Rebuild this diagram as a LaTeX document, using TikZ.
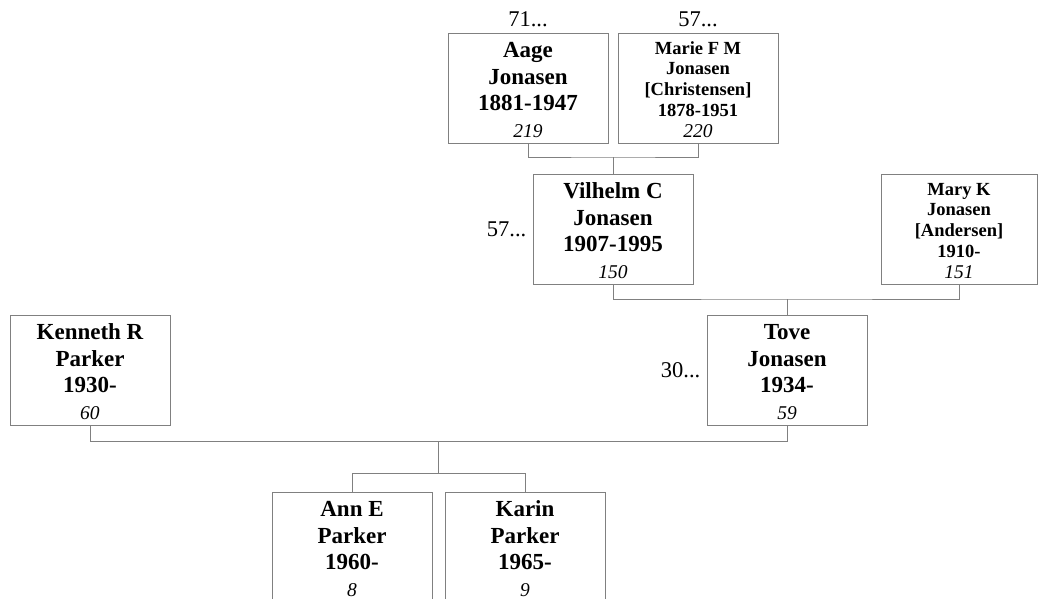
\documentclass[tikz,border=0pt]{standalone}
\usepackage{fontspec}
\setmainfont{Liberation Serif}
\usetikzlibrary{positioning}

\tikzset{
  person/.style={draw=gray, line width=1pt, minimum width=160pt, minimum height=110pt,
    inner sep=0pt, align=center, text height=101pt, text depth=3pt,
    font=\fontsize{23}{26.5}\selectfont\bfseries},
  spouse/.style={person, font=\fontsize{18.5}{20.75}\selectfont\bfseries},
  link/.style={draw=gray, line width=1pt},
  more/.style={inner sep=0pt, font=\fontsize{22.5}{26}\selectfont},
}
\newcommand{\refno}[1]{{\fontsize{19.5}{20}\selectfont\mdseries\itshape #1}}

\begin{document}
\begin{tikzpicture}[x=1pt,y=-1pt]
\useasboundingbox (0,0) rectangle (1038,598);

% Grandparents.
\node[person] (aage)  at (528,88) {Aage\\Jonasen\\1881-1947\\\refno{219}};
\node[spouse] (marie) at (698,88) {Marie F M\\Jonasen\\{[Christensen]}\\1878-1951\\\refno{220}};
\node[more, above=5pt of aage]  (aagemore)  {71...};
\node[more, above=5pt of marie] (mariemore) {57...};

% Parents of Tove.
\node[person] (vilhelm) at (613,229) {Vilhelm C\\Jonasen\\1907-1995\\\refno{150}};
\node[spouse, minimum width=156pt] (mary) at (959,229) {Mary K\\Jonasen\\{[Andersen]}\\1910-\\\refno{151}};
\node[more, left=6pt of vilhelm] (vilhelmmore) {57...};

% Parents.
\node[person] (kenneth) at (90,370)  {Kenneth R\\Parker\\1930-\\\refno{60}};
\node[person] (tove)    at (787,370) {Tove\\Jonasen\\1934-\\\refno{59}};
\node[more, left=6pt of tove] (tovemore) {30...};

% Children.
\node[person] (ann)   at (352,547) {Ann E\\Parker\\1960-\\\refno{8}};
\node[person] (karin) at (525,547) {Karin\\Parker\\1965-\\\refno{9}};

% Joints.
\coordinate (j1) at (613,157);
\coordinate (j2) at (787,299);
\coordinate (j3) at (438.5,441);
\coordinate (j4) at (438.5,473);

% Lines.
\draw[link] (aage.south) |- (j1) -| (marie.south);
\draw[link] (j1) -- (vilhelm.north);
\draw[link] (vilhelm.south) |- (j2) -| (mary.south);
\draw[link] (j2) -- (tove.north);
\draw[link] (kenneth.south) |- (j3) -| (tove.south);
\draw[link] (j3) -- (j4);
\draw[link] (ann.north) |- (j4) -| (karin.north);
\end{tikzpicture}
\end{document}
